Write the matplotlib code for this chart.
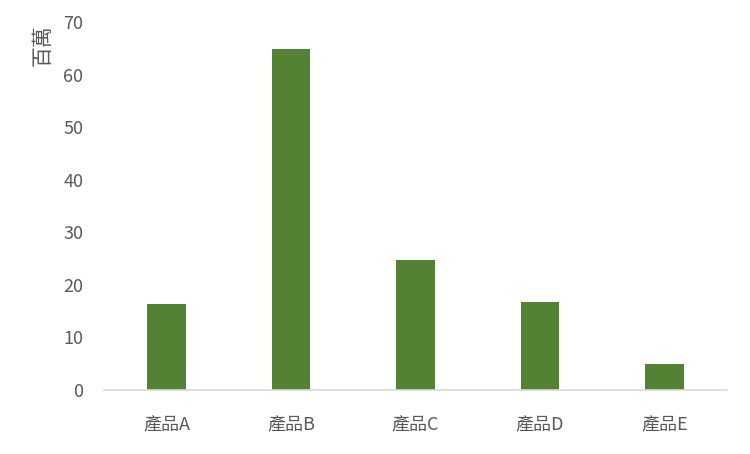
import matplotlib.pyplot as plt

plt.rcParams['font.family'] = ['Noto Sans CJK TC', 'DejaVu Sans']

products = ["產品A", "產品B", "產品C", "產品D", "產品E"]
sales = [16.4, 65.0, 24.8, 16.8, 5.0]
yticks = [0, 10, 20, 30, 40, 50, 60, 70]

fig = plt.figure(figsize=(7.5, 4.54), dpi=100)
ax = fig.add_axes([0.139, 0.141, 0.830, 0.810])

ax.bar(range(len(products)), sales, width=0.313, color="#548235")

ax.set_xlim(-0.5, len(products) - 0.5)
ax.set_ylim(0, 70)
ax.set_yticks(yticks)
ax.set_xticks(range(len(products)))
ax.set_xticklabels(products)

for s in ["top", "right", "left"]:
    ax.spines[s].set_visible(False)
ax.spines["bottom"].set_color("#d9d9d9")
ax.spines["bottom"].set_linewidth(1.2)
ax.tick_params(axis="both", length=0, labelsize=13, colors="#595959")
ax.tick_params(axis="y", pad=15)
ax.tick_params(axis="x", pad=19)

fig.text(0.057, 0.9, "百萬", rotation=90, ha="center", va="center",
         fontsize=15, color="#595959")

fig.savefig("out.png")
